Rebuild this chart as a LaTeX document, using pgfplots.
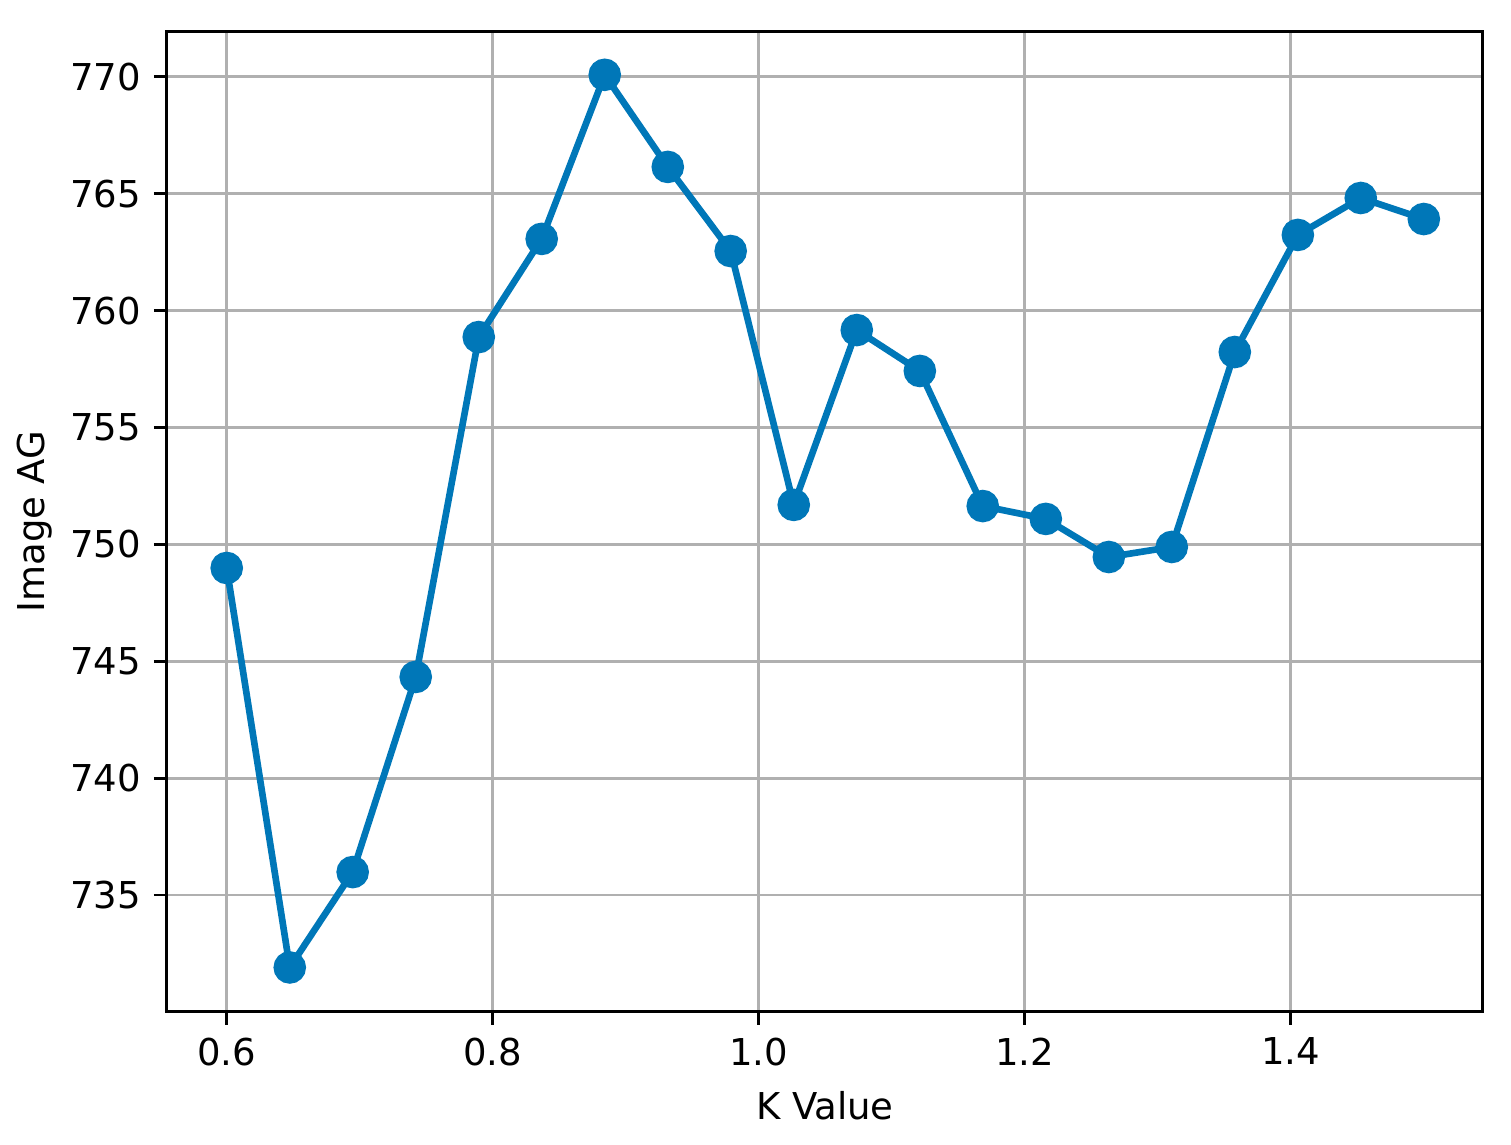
\documentclass[border=0pt]{standalone}
\usepackage{fontspec}
\setmainfont{DejaVu Sans}
\usepackage{pgfplots}
\pgfplotsset{compat=1.18}
\definecolor{lineblue}{RGB}{0,119,184}
\definecolor{gridgray}{RGB}{176,176,176}
\begin{document}
\begin{tikzpicture}
\begin{axis}[
    scale only axis,
    width=355.7pt, height=264.9pt,
    xmin=0.555, xmax=1.5444,
    ymin=730.0, ymax=771.93,
    xtick={0.6,0.8,1.0,1.2,1.4},
    ytick={735,740,745,750,755,760,765,770},
    xticklabel style={/pgf/number format/.cd, fixed, fixed zerofill, precision=1},
    /pgf/number format/assume math mode=true,
    tick label style={font=\fontsize{10}{12}\selectfont},
    label style={font=\fontsize{10}{12}\selectfont},
    xlabel={K Value}, ylabel={Image AG},
    tick align=outside, tick pos=left,
    major tick length=3.5pt,
    every tick/.style={black, line width=0.8pt},
    axis line style={line width=0.8pt},
    grid=major,
    major grid style={gridgray, line width=0.8pt},
    xlabel style={yshift=0pt},
    ylabel style={yshift=-2pt},
    clip=false,
]
\addplot[lineblue, line width=1.8pt, mark=*, mark size=3.5pt, mark options={fill=lineblue, draw=lineblue}] coordinates {
    (0.6000, 748.99)
    (0.6474, 731.90)
    (0.6947, 735.98)
    (0.7421, 744.33)
    (0.7895, 758.87)
    (0.8368, 763.07)
    (0.8842, 770.09)
    (0.9316, 766.15)
    (0.9789, 762.55)
    (1.0263, 751.69)
    (1.0737, 759.17)
    (1.1211, 757.42)
    (1.1684, 751.64)
    (1.2158, 751.09)
    (1.2632, 749.46)
    (1.3105, 749.89)
    (1.3579, 758.23)
    (1.4053, 763.24)
    (1.4526, 764.82)
    (1.5000, 763.92)
};
\end{axis}
\pgfresetboundingbox
\path[use as bounding box] ([shift={(-45.1pt,-35.9pt)}]current axis.south west) rectangle ([shift={(7.6pt,8.6pt)}]current axis.north east);
\end{tikzpicture}
\end{document}
